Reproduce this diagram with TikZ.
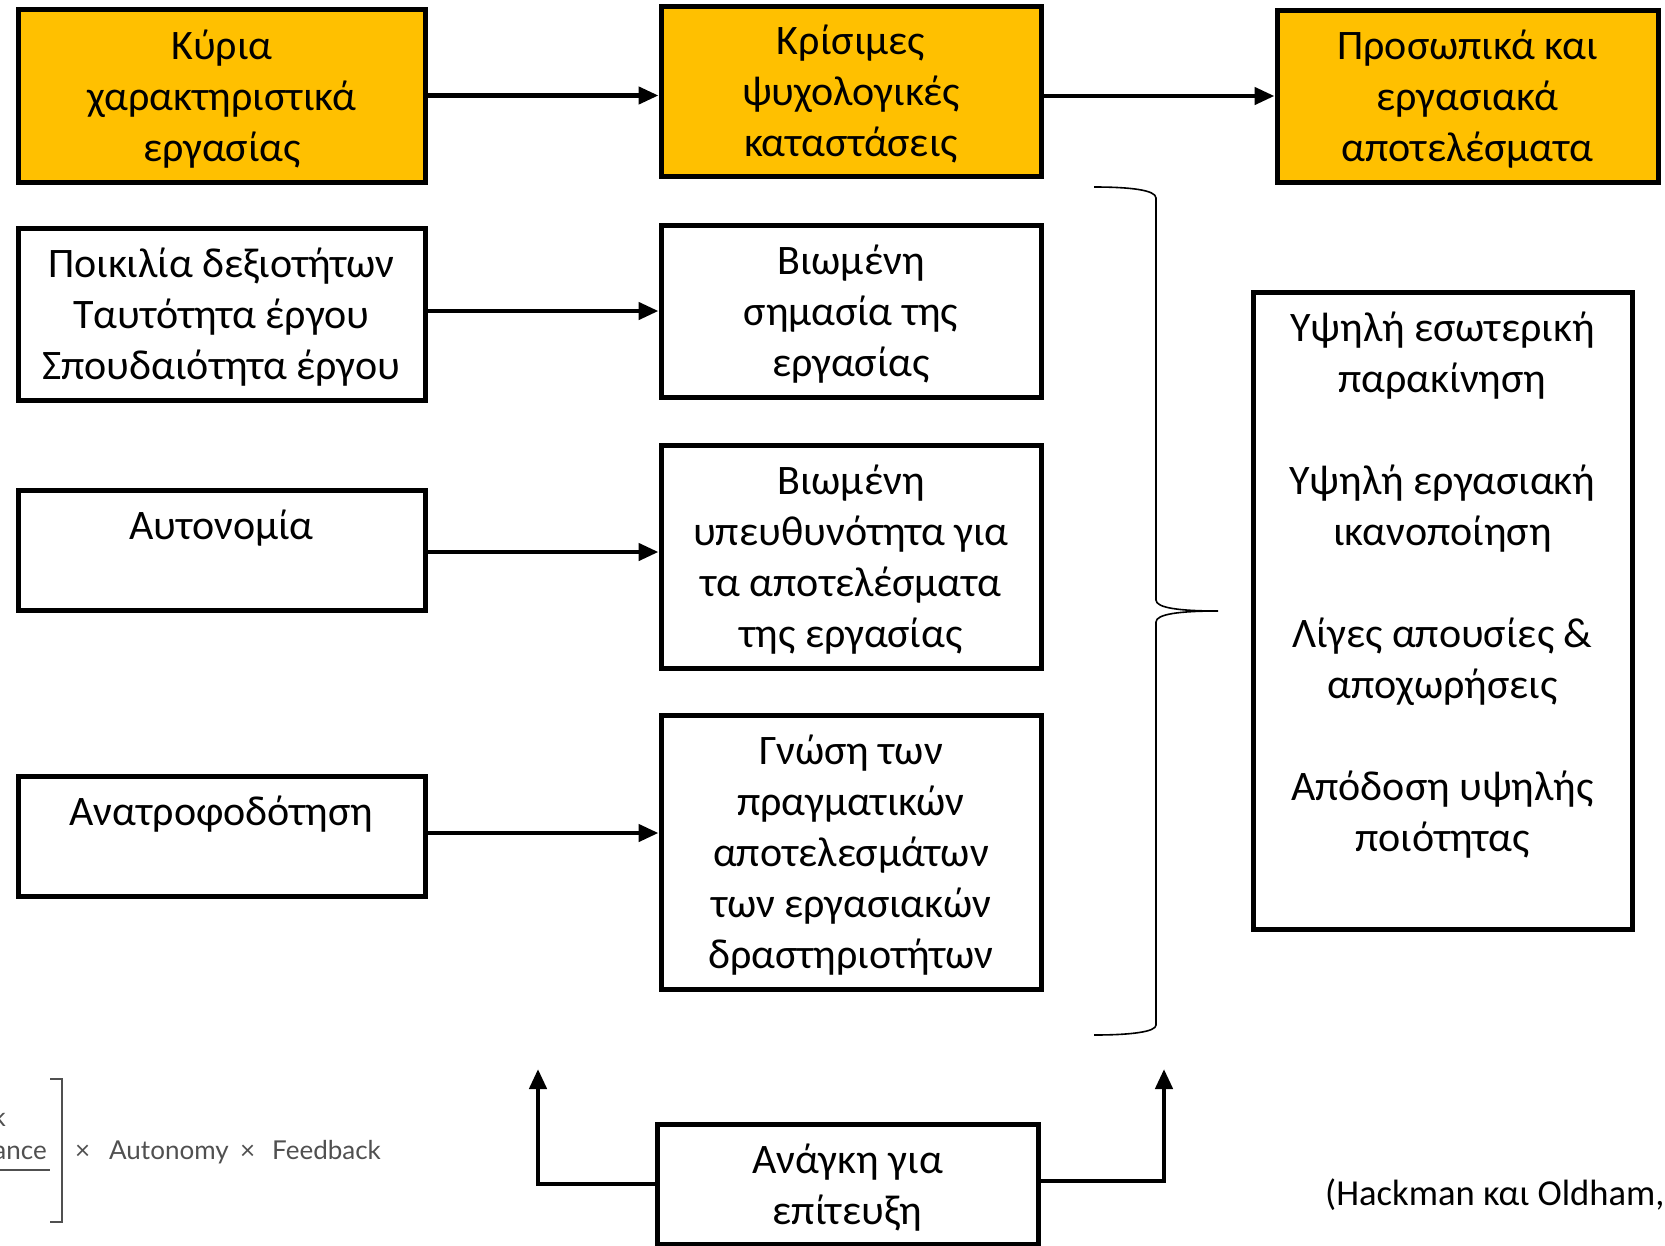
\documentclass[tikz,border=0pt]{standalone}
\usepackage{fontspec}
\setmainfont{Carlito}
\newfontfamily\formfont{Lato}
\usetikzlibrary{arrows.meta}
\definecolor{boxyellow}{HTML}{FFC000}
\definecolor{formgray}{HTML}{505050}
\newcommand{\ts}{\rule{0pt}{45pt}}
\newcommand{\tsr}{\rule{0pt}{38pt}}
\newcommand{\botstrut}{\rule[-15.3pt]{0pt}{15.3pt}}
\tikzset{
  box/.style={draw=black, line width=5pt, inner sep=0pt, align=center,
    font=\fontsize{42}{51}\selectfont,
    execute at end node=\botstrut},
  yellowbox/.style={box, fill=boxyellow},
  flow/.style={line width=4.5pt, -{Triangle[length=20pt,width=17pt]}},
  bracestyle/.style={line width=1.6pt},
  cite/.style={font=\fontsize{36.6}{42}\selectfont, inner sep=0pt},
  formtext/.style={font=\formfont\fontsize{26}{30}\selectfont, text=formgray, inner sep=0pt},
  formline/.style={draw=formgray, line width=2.2pt}
}
\begin{document}
\begin{tikzpicture}[x=1pt,y=-1pt]
\useasboundingbox (0,0) rectangle (1665,1245);

% top row
\node[yellowbox, minimum width=407pt, minimum height=173pt] (b1) at (222,95.5) {\ts Κύρια\\χαρακτηριστικά\\εργασίας};
\node[yellowbox, minimum width=380pt, minimum height=170pt] (b2) at (851,91) {\ts Κρίσιμες\\ψυχολογικές\\καταστάσεις};
\node[yellowbox, minimum width=381pt, minimum height=172pt] (b3) at (1467.5,96) {\ts Προσωπικά και\\εργασιακά\\αποτελέσματα};

% left column
\node[box, minimum width=407pt, minimum height=172pt] (r2l) at (221.5,314) {\ts Ποικιλία δεξιοτήτων\\Ταυτότητα έργου\\Σπουδαιότητα έργου};
\node[box, minimum width=407pt, minimum height=120pt] (r3l) at (221.5,550) {\ts Αυτονομία\\\mbox{}};
\node[box, minimum width=407pt, minimum height=120pt] (r4l) at (221.5,836) {\ts Ανατροφοδότηση\\\mbox{}};

% middle column
\node[box, minimum width=380pt, minimum height=172pt] (r2m) at (851,311) {\ts Βιωμένη\\σημασία της\\εργασίας};
\node[box, minimum width=380pt, minimum height=223pt] (r3m) at (851,556.5) {\ts Βιωμένη\\υπευθυνότητα για\\τα αποτελέσματα\\της εργασίας};
\node[box, minimum width=380pt, minimum height=274pt] (r4m) at (851,852) {\ts Γνώση των\\πραγματικών\\αποτελεσμάτων\\των εργασιακών\\δραστηριοτήτων};

% right column
\node[box, minimum width=379pt, minimum height=637pt] (rb) at (1442.5,610.5) {\tsr Υψηλή εσωτερική\\παρακίνηση\\[51pt]Υψηλή εργασιακή\\ικανοποίηση\\[51pt]Λίγες απουσίες \&\\αποχωρήσεις\\[51pt]Απόδοση υψηλής\\ποιότητας\\\mbox{}};

% bottom box
\node[box, minimum width=381pt, minimum height=120pt] (bot) at (847.5,1184) {\ts Ανάγκη για\\επίτευξη};

% arrows
\draw[flow] (b1.east) -- (b1.east -| b2.west);
\draw[flow] (b2.east |- b3.west) -- (b3.west);
\draw[flow] (r2l.east |- r2m.west) -- (r2m.west);
\draw[flow] ([yshift=-2pt]r3l.east) -- ([yshift=-2pt]r3l.east -| r3m.west);
\draw[flow] ([yshift=3pt]r4l.east) -- ([yshift=3pt]r4l.east -| r4m.west);

\coordinate (upL) at (538,1069);
\coordinate (upR) at (1164,1069);
\draw[flow] (bot.west) -| (upL);
\draw[flow] ([yshift=3pt]bot.east) -| (upR);

% brace
\draw[bracestyle] (1094,187) .. controls (1130,187) and (1156,190) .. (1156,198)
  -- (1156,600) .. controls (1156,608) and (1180,611) .. (1218,611)
  .. controls (1180,611) and (1156,614) .. (1156,622)
  -- (1156,1025) .. controls (1156,1032) and (1130,1035) .. (1094,1035);

% citation
\node[cite, anchor=base west] (cite) at (1325,1205) {(Hackman και Oldham,};

% formula fragment
\begin{scope}
\clip (0,1060) rectangle (420,1245);
\node[formtext, anchor=base east] (ftask) at (6,1126) {Task};
\node[formtext, anchor=base east] (fsig) at (47,1159) {significance};
\draw[formline] (-40,1170) -- (50,1170);
\draw[formline] (50,1079) -- (62,1079) -- (62,1222) -- (50,1222);
\node[formtext, anchor=base west] (fx1) at (75,1159) {×};
\node[formtext, anchor=base west] (faut) at (109,1159) {Autonomy};
\node[formtext, anchor=base west] (fx2) at (240,1159) {×};
\node[formtext, anchor=base west] (ffeed) at (272,1159) {Feedback};
\end{scope}
\end{tikzpicture}
\end{document}
